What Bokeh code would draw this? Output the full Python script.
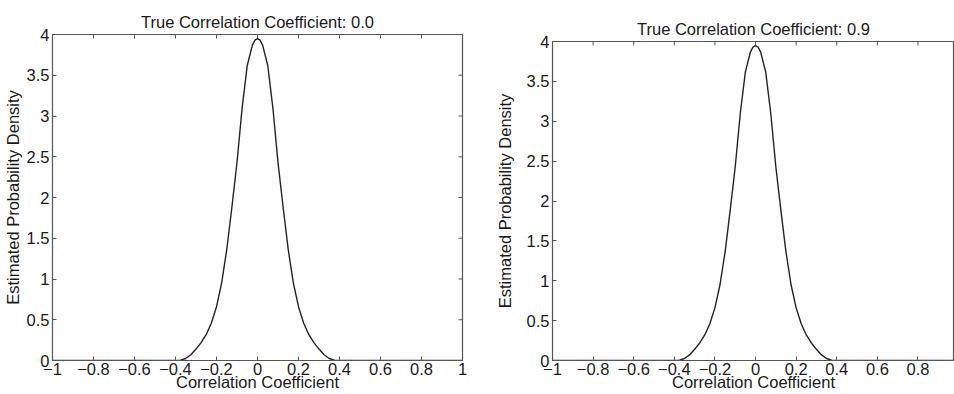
from bokeh.plotting import figure
from bokeh.layouts import row, column
from bokeh.models import FixedTicker, Range1d
from bokeh.embed import file_html
from bokeh.resources import INLINE

# ---- data ----
corr = [-1.0, -0.4, -0.375, -0.35, -0.325, -0.3, -0.275, -0.25, -0.225, -0.2,
        -0.175, -0.15, -0.125, -0.1, -0.075, -0.05, -0.025, -0.0125, 0.0,
        0.0125, 0.025, 0.05, 0.075, 0.1, 0.125, 0.15, 0.175, 0.2, 0.225,
        0.25, 0.275, 0.3, 0.325, 0.35, 0.375, 0.4, 1.0]
density_true_00 = [0.0, 0.0, 0.005, 0.025, 0.07, 0.14, 0.22, 0.32, 0.46, 0.66,
                   0.95, 1.36, 1.88, 2.43, 3.10, 3.62, 3.87, 3.93, 3.95,
                   3.93, 3.87, 3.62, 3.10, 2.43, 1.88, 1.36, 0.95, 0.66, 0.46,
                   0.32, 0.22, 0.14, 0.07, 0.025, 0.005, 0.0, 0.0]
density_true_09 = [0.0, 0.0, 0.005, 0.025, 0.07, 0.14, 0.22, 0.32, 0.46, 0.66,
                   0.95, 1.36, 1.88, 2.43, 3.10, 3.62, 3.87, 3.93, 3.95,
                   3.93, 3.87, 3.62, 3.10, 2.43, 1.88, 1.36, 0.95, 0.66, 0.46,
                   0.32, 0.22, 0.14, 0.07, 0.025, 0.005, 0.0, 0.0]

x_ticks = [-1.0, -0.8, -0.6, -0.4, -0.2, 0.0, 0.2, 0.4, 0.6, 0.8, 1.0]
x_tick_labels = ["\u22121", "\u22120.8", "\u22120.6", "\u22120.4", "\u22120.2", "0",
                 "0.2", "0.4", "0.6", "0.8", "1"]
y_ticks = [0.0, 0.5, 1.0, 1.5, 2.0, 2.5, 3.0, 3.5, 4.0]
y_tick_labels = ["0", "0.5", "1", "1.5", "2", "2.5", "3", "3.5", "4"]

titles = ["True Correlation Coefficient: 0.0", "True Correlation Coefficient: 0.9"]
x_label = "Correlation Coefficient"
y_label = "Estimated Probability Density"

FONT = "Liberation Sans"
FS = "16.5px"
TXT = "#1a1a1a"
AX = "#555555"
Y_TOP, X_RIGHT = 4.0, 1.0


def make(title, ys, width, bl, br, bt, x_end, label_standoff, right_ticks):
    p = figure(width=width, height=394, x_range=Range1d(-1, x_end),
               y_range=Range1d(0, Y_TOP), output_backend="svg",
               toolbar_location=None, min_border_left=bl, min_border_right=br,
               min_border_top=bt, min_border_bottom=34)
    p.background_fill_color = "white"
    p.border_fill_color = "white"
    p.outline_line_color = AX
    p.outline_line_width = 1.2
    p.grid.visible = False

    p.title.text = title
    p.title.text_font = FONT
    p.title.text_font_size = FS
    p.title.text_font_style = "normal"
    p.title.text_color = TXT
    p.title.align = "center"
    p.title.standoff = 7

    xa = p.xaxis[0]
    xa.ticker = FixedTicker(ticks=x_ticks)
    xa.major_label_overrides = dict(zip(x_ticks, x_tick_labels))
    xa.axis_label = x_label
    ya = p.yaxis[0]
    ya.ticker = FixedTicker(ticks=y_ticks)
    ya.major_label_overrides = dict(zip(y_ticks, y_tick_labels))
    ya.axis_label = y_label
    ya.axis_label_standoff = label_standoff
    xa.axis_label_standoff = -5
    for ax in (xa, ya):
        ax.major_tick_in = 4
        ax.major_tick_out = 0
        ax.minor_tick_line_color = None
        ax.axis_line_color = AX
        ax.major_tick_line_color = AX
        ax.major_label_text_font = FONT
        ax.major_label_text_font_size = FS
        ax.major_label_text_color = TXT
        ax.axis_label_text_font = FONT
        ax.axis_label_text_font_size = FS
        ax.axis_label_text_font_style = "normal"
        ax.axis_label_text_color = TXT
    xa.major_label_standoff = 2
    ya.major_label_standoff = 3

    # inward ticks on the top edge (and right edge) of the box
    tick_len_y = 4 * Y_TOP / 326.0
    p.segment(x0=x_ticks, y0=[Y_TOP] * len(x_ticks), x1=x_ticks,
              y1=[Y_TOP - tick_len_y] * len(x_ticks), line_color=AX, line_width=1)
    if right_ticks:
        tick_len_x = 4 * 2.0 / 413.0
        p.segment(x0=[X_RIGHT] * len(y_ticks), y0=y_ticks,
                  x1=[X_RIGHT - tick_len_x] * len(y_ticks), y1=y_ticks,
                  line_color=AX, line_width=1)

    p.line(corr, ys, line_color="#222222", line_width=1.4)
    return p


p1 = make(titles[0], density_true_00, 480, 49, 18, 34, 1.0, 2, True)
p2 = make(titles[1], density_true_09, 474, 72, 0, 41, 0.98, 10, False)

layout = row(column(p1), column(p2))
open("out.html", "w").write(file_html(layout, INLINE))
